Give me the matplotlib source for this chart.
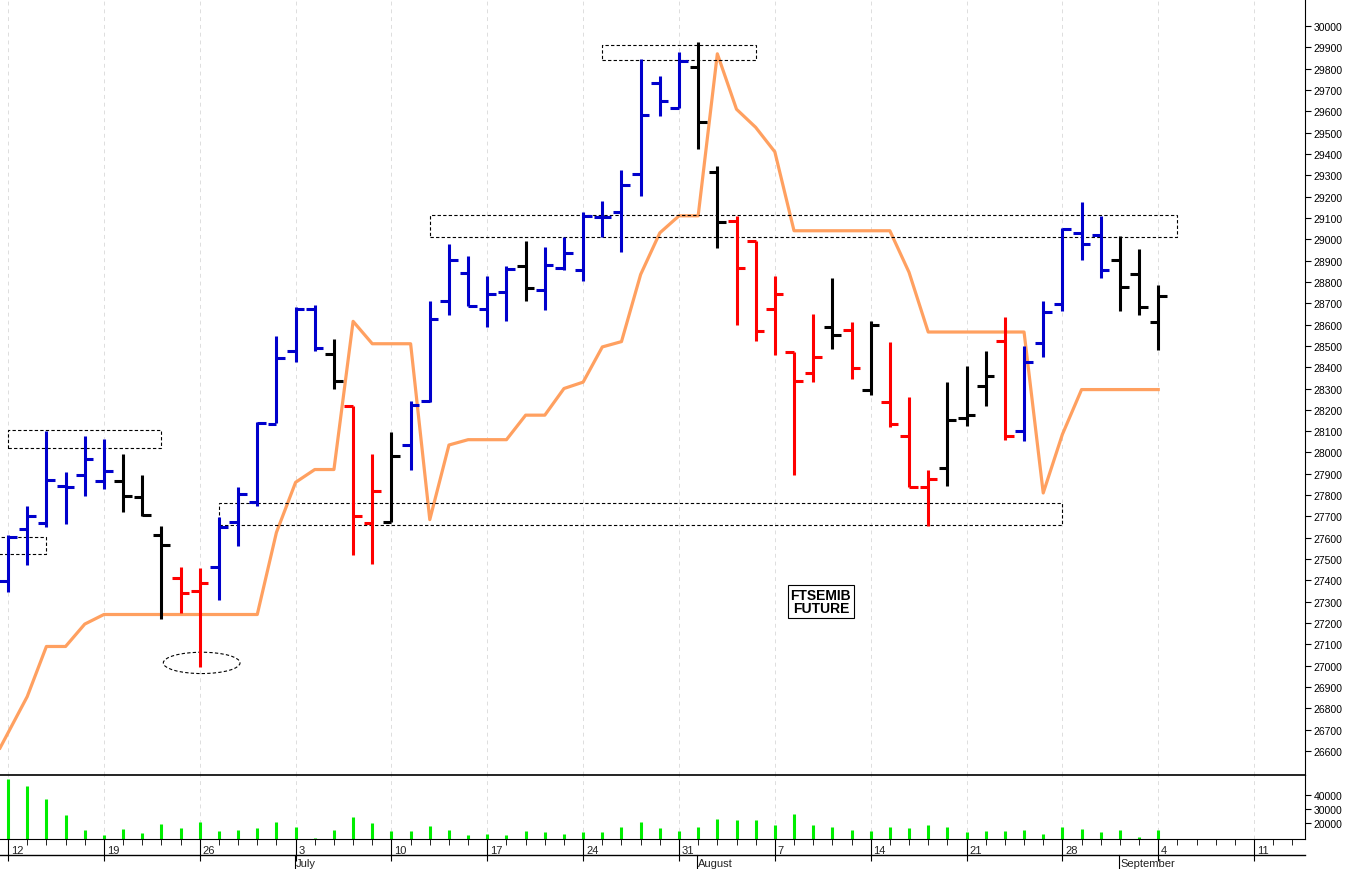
import numpy as np
import matplotlib.pyplot as plt
from matplotlib.patches import Rectangle, Ellipse

plt.rcParams['font.family'] = ['Liberation Sans', 'DejaVu Sans']

# =========================
# Data (daily OHLC, one bar per trading day starting Mon 12 June)
# =========================
highs = [27615, 27750, 28100, 27910, 28075, 28065, 27995, 27895, 27655, 27465,
         27460, 27695, 27840, 28145, 28545, 28680, 28690, 28530, 28220, 27995,
         28095, 28240, 28710, 28980, 28920, 28830, 28875, 28990, 28965, 29010,
         29130, 29180, 29325, 29845, 29765, 29880, 29925, 29345, 29110, 28990,
         28830, 28470, 28650, 28820, 28610, 28615, 28520, 28260, 27920, 28330,
         28405, 28475, 28635, 28500, 28710, 29055, 29175, 29110, 29015, 28955, 28785]
lows = [27345, 27470, 27650, 27665, 27795, 27830, 27720, 27700, 27220, 27245,
        26995, 27310, 27560, 27750, 28140, 28425, 28475, 28300, 27520, 27475,
        27675, 27920, 28235, 28645, 28685, 28590, 28615, 28710, 28670, 28855,
        28805, 29010, 28940, 29205, 29580, 29615, 29425, 28960, 28600, 28525,
        28455, 27895, 28330, 28485, 28345, 28270, 28120, 27840, 27655, 27845,
        28125, 28220, 28060, 28055, 28450, 28665, 28905, 28820, 28665, 28645, 28480]
opens = [27395, 27640, 27670, 27845, 27895, 27865, 27865, 27790, 27615, 27410,
         27350, 27465, 27675, 27770, 28135, 28475, 28675, 28460, 28220, 27670,
         27675, 28035, 28240, 28710, 28840, 28675, 28755, 28875, 28760, 28865,
         28855, 29105, 29130, 29305, 29735, 29615, 29810, 29315, 29085, 28990,
         28675, 28470, 28375, 28590, 28575, 28295, 28235, 28075, 27840, 27925,
         28160, 28310, 28525, 28100, 28515, 28695, 29030, 29020, 28905, 28835, 28610]
closes = [27605, 27700, 27870, 27840, 27970, 27915, 27795, 27705, 27565, 27340,
          27390, 27650, 27805, 28140, 28445, 28675, 28490, 28335, 27700, 27820,
          27985, 28225, 28625, 28905, 28685, 28745, 28860, 28770, 28880, 28935,
          29110, 29105, 29255, 29585, 29650, 29835, 29550, 29080, 28865, 28570,
          28745, 28335, 28450, 28550, 28395, 28600, 28135, 27840, 27875, 28150,
          28175, 28360, 28075, 28425, 28660, 29050, 28980, 28855, 28775, 28680, 28735]
bar_color = list("BBBBBBKKKRRBBBBBBKRRKBBBBBBKBBBBBBBBKKRRRRRKRKRRRKKKRBBBBBKKK")

# orange indicator line
line_vals = [26685, 26855, 27090, 27090, 27195, 27240, 27240, 27240, 27240, 27240,
             27240, 27240, 27240, 27240, 27625, 27860, 27920, 27920, 28615, 28510,
             28510, 28510, 27685, 28035, 28060, 28060, 28060, 28175, 28175, 28300,
             28330, 28495, 28520, 28835, 29030, 29110, 29110, 29870, 29610, 29525,
             29410, 29040, 29040, 29040, 29040, 29040, 29040, 28845, 28565, 28565,
             28565, 28565, 28565, 28565, 27810, 28085, 28295, 28295, 28295, 28295, 28295]

volume = [51400, 46700, 37100, 25700, 15000, 11700, 15700, 12900, 19300, 16200,
          20500, 14300, 14800, 16700, 20500, 17400, 9500, 14800, 24000, 20000,
          14500, 14300, 17900, 15200, 11400, 11900, 11400, 14500, 13600, 11900,
          13300, 13300, 17100, 21000, 16200, 14300, 17400, 22900, 22100, 22100,
          18600, 26400, 18600, 17400, 15200, 14300, 16900, 16200, 18600, 17100,
          13600, 14300, 14500, 15200, 11900, 17400, 15500, 13600, 14800, 10000, 14800]

# week labels (index of Monday bar) and month starts
week_idx = [0, 5, 10, 15, 20, 25, 30, 35, 40, 45, 50, 55, 60, 65]
week_lbl = ["12", "19", "26", "3", "10", "17", "24", "31", "7", "14", "21", "28", "4", "11"]
month_idx = [15, 36, 58]
month_lbl = ["July", "August", "September"]

# annotation zones: (first bar, last bar, low, high)
zones = [(0, 8, 28020, 28105), (-0.5, 2, 27525, 27605), (11, 55, 27660, 27765),
         (22, 61, 29010, 29115), (31, 39, 29840, 29910)]

colors = {"B": "#0000CC", "K": "black", "R": "#FF0000"}
x = np.arange(len(highs))
XMIN, XMAX = -0.42, 67.66

fig = plt.figure(figsize=(13.52, 8.70), dpi=100)
ax = fig.add_axes([0, 0.108, 0.9653, 0.892])
axv = fig.add_axes([0, 0.0345, 0.9653, 0.0736])

# =========================
# Price panel
# =========================
for i in x:
    c = colors[bar_color[i]]
    ax.vlines(i, lows[i], highs[i], color=c, lw=2.2)
    ax.hlines(opens[i], i - 0.45, i, color=c, lw=2.2)
    ax.hlines(closes[i], i, i + 0.45, color=c, lw=2.2)

xl = np.concatenate([[XMIN], x])
yl = [line_vals[0] - (line_vals[1] - line_vals[0]) * 0.42] + line_vals
ax.plot(xl, yl, color="#FFA060", lw=2.3, zorder=1)

for a, b, lo, hi in zones:
    ax.add_patch(Rectangle((a, lo), b - a, hi - lo, fill=False, ls=(0, (3, 2)),
                           lw=0.8, ec="black"))
ax.add_patch(Ellipse((10.1, 27013), 4.0, 100, fill=False, ls=(0, (3, 2)), lw=0.8, ec="black"))

ax.text(42.4, 27300, "FTSEMIB\nFUTURE", ha="center", va="center", fontsize=10,
        fontweight="bold", linespacing=0.95,
        bbox=dict(boxstyle="square,pad=0.2", fc="white", ec="black", lw=0.8))

ax.set_xlim(XMIN, XMAX)
ax.set_ylim(26487, 30127)
ax.set_yticks(np.arange(26600, 30001, 100))
ax.yaxis.tick_right()
ax.tick_params(axis="y", labelsize=7.5, length=4, pad=2)
ax.set_xticks([])
for w in week_idx:
    ax.axvline(w, color="#dddddd", ls=(0, (4, 4)), lw=0.7, zorder=0)
for s in ["top", "left"]:
    ax.spines[s].set_visible(False)

# =========================
# Volume panel
# =========================
axv.vlines(x, 0, volume, color="#00EE00", lw=2.2)
axv.set_xlim(XMIN, XMAX)
axv.set_ylim(8570, 54300)
axv.set_yticks([20000, 30000, 40000])
axv.yaxis.tick_right()
axv.tick_params(axis="y", labelsize=7.5, length=4, pad=2)
for w in week_idx:
    axv.axvline(w, color="#dddddd", ls=(0, (4, 4)), lw=0.7, zorder=0)
axv.set_xticks(np.arange(0, 68), minor=True)
axv.set_xticks(week_idx)
axv.set_xticklabels([])
axv.tick_params(axis="x", which="minor", length=4, direction="out")
axv.tick_params(axis="x", which="major", length=16, direction="out")
axv.spines["top"].set_linewidth(1.2)
axv.spines["left"].set_visible(False)

for w, lbl in zip(week_idx, week_lbl):
    axv.text(w + 0.15, -0.1, lbl, transform=axv.get_xaxis_transform(), fontsize=8,
             va="top", ha="left", color="#222222")

# month row
fig.add_artist(plt.Line2D([0, 0.9653], [14 / 870, 14 / 870], color="black", lw=1.0))
for m, lbl in zip(month_idx, month_lbl):
    xf = (8 + 19.17 * m - 1) / 1352
    fig.add_artist(plt.Line2D([xf, xf], [0, 14 / 870], color="black", lw=0.8))
    fig.text(xf + 0.001, 1 / 870, lbl, fontsize=8, va="bottom", ha="left", color="#222222")

fig.savefig("out.png", dpi=100)
